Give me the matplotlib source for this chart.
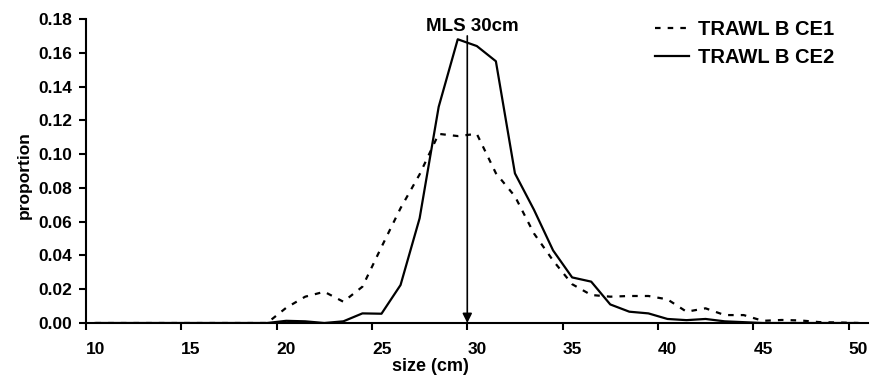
import numpy as np
import matplotlib
matplotlib.use('agg')
import matplotlib.pyplot as plt

plt.rcParams['font.family'] = ['Liberation Sans', 'DejaVu Sans']
plt.rcParams['font.weight'] = 'bold'

# size classes (cm), mid points
size_cm = [10.5, 11.5, 12.5, 13.5, 14.5, 15.5, 16.5, 17.5, 18.5, 19.5,
           20.5, 21.5, 22.5, 23.5, 24.5, 25.5, 26.5, 27.5, 28.5, 29.5,
           30.5, 31.5, 32.5, 33.5, 34.5, 35.5, 36.5, 37.5, 38.5, 39.5,
           40.5, 41.5, 42.5, 43.5, 44.5, 45.5, 46.5, 47.5, 48.5, 49.5, 50.5]

ce1 = [0, 0, 0, 0, 0, 0, 0, 0, 0, 0,
       0.009, 0.0156, 0.0185, 0.0126, 0.0215, 0.045, 0.068, 0.088, 0.112, 0.1107,
       0.112, 0.0887, 0.075, 0.053, 0.037, 0.023, 0.0166, 0.0156, 0.016, 0.016,
       0.014, 0.0067, 0.0087, 0.0047, 0.0047, 0.0013, 0.0018, 0.0015, 0.0005, 0.0003, 0]

ce2 = [0, 0, 0, 0, 0, 0, 0, 0, 0, 0,
       0.0013, 0.001, 0, 0.001, 0.0057, 0.0055, 0.0225, 0.062, 0.128, 0.168,
       0.164, 0.155, 0.0886, 0.067, 0.043, 0.027, 0.0245, 0.011, 0.0067, 0.0057,
       0.0024, 0.0017, 0.0024, 0.001, 0.0005, 0, 0, 0, 0, 0, 0]

mls = 30
labels = ['TRAWL B CE1', 'TRAWL B CE2']

fig = plt.figure(figsize=(8.72, 3.85), dpi=100)
ax = fig.add_axes([0.0986, 0.161, 0.8964, 0.7896])

ax.plot(size_cm, ce1, color='black', lw=1.6, ls=(0, (2.5, 3.2)), label=labels[0])
ax.plot(size_cm, ce2, color='black', lw=1.6, ls='-', label=labels[1])

ax.annotate('', xy=(mls, 0.0), xytext=(mls, 0.170),
            arrowprops=dict(arrowstyle='-|>', color='black', lw=1.2,
                            mutation_scale=14, shrinkA=0, shrinkB=0))
ax.text(mls + 0.25, 0.1758, 'MLS 30cm', ha='center', va='center', fontsize=13.5, fontweight='bold')

ax.set_xlim(10, 51)
ax.set_ylim(0, 0.18)
ax.set_xticks(np.arange(10, 51, 5))
ax.set_yticks(np.arange(0, 0.181, 0.02))
ax.yaxis.set_major_formatter(matplotlib.ticker.FormatStrFormatter('%.2f'))
ax.tick_params(axis='both', labelsize=12.5, width=1.5, length=5, direction='out')
ax.tick_params(axis='x', pad=9)
ax.tick_params(axis='y', pad=5)
for lab in ax.get_xticklabels():
    lab.set_ha('left')
for s in ['top', 'right']:
    ax.spines[s].set_visible(False)
for s in ['left', 'bottom']:
    ax.spines[s].set_linewidth(1.5)

ax.set_xlabel('size (cm)', fontsize=13, fontweight='bold')
ax.xaxis.set_label_coords(0.441, -0.115)
ax.set_ylabel('proportion', fontsize=12.5, fontweight='bold')
ax.yaxis.set_label_coords(-0.069, 0.487)

leg = ax.legend(loc='upper left', bbox_to_anchor=(655 / 872, 1 - 20 / 385),
                bbox_transform=fig.transFigure, frameon=False, borderpad=0,
                borderaxespad=0, fontsize=14.5, handlelength=1.7,
                handletextpad=0.45, labelspacing=0.45)
for t in leg.get_texts():
    t.set_fontweight('bold')

fig.savefig('out.png', dpi=100)
